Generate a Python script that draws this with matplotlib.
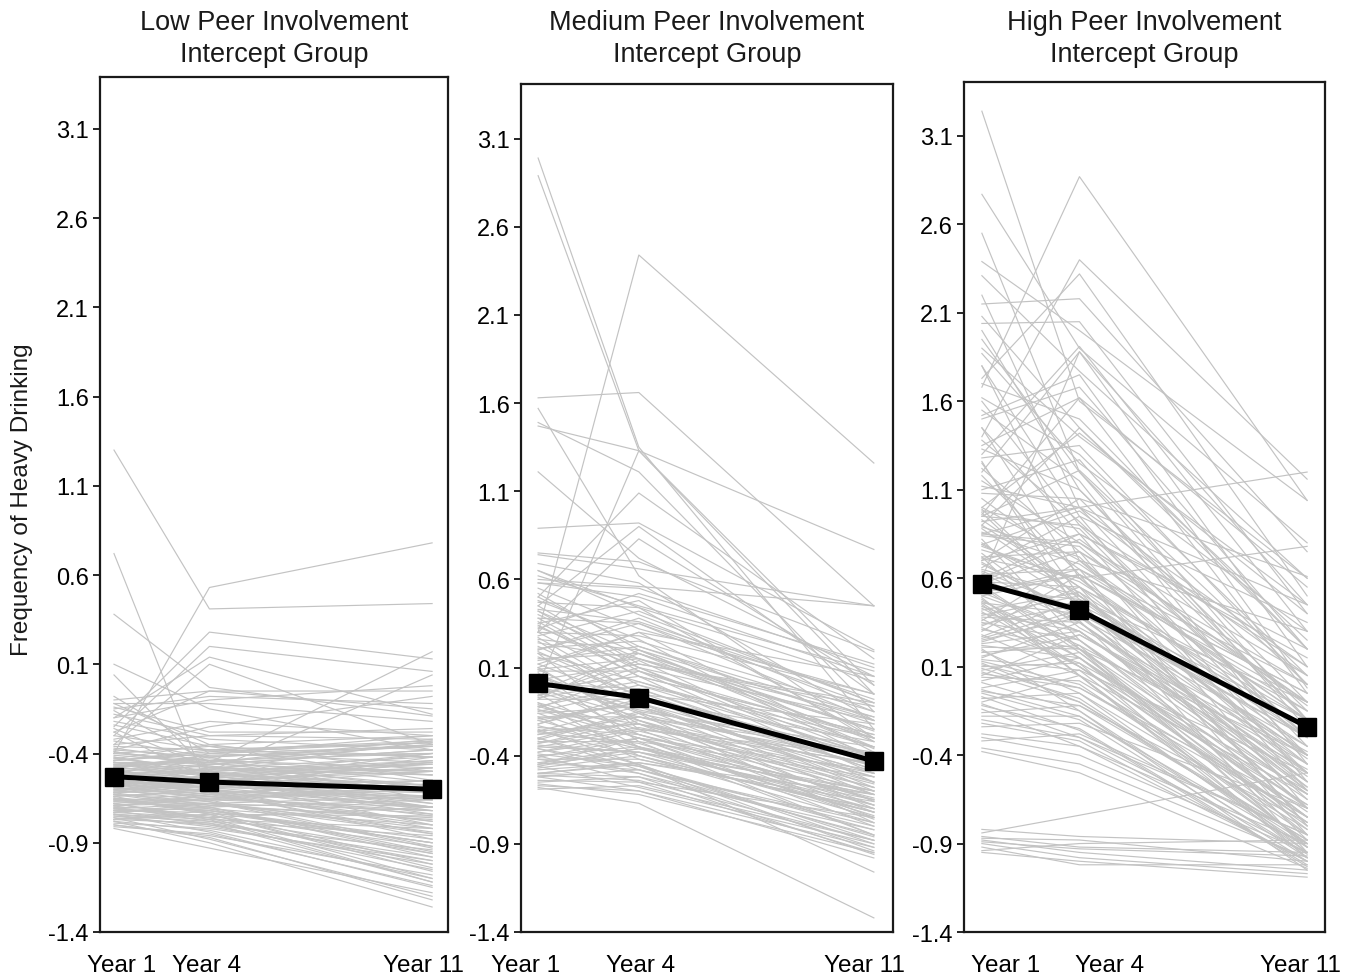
import matplotlib
matplotlib.use("Agg")
import matplotlib.pyplot as plt
import numpy as np

plt.rcParams['font.family'] = ['Liberation Sans', 'DejaVu Sans']

years = [1, 4, 11]
year_labels = ["Year 1", "Year 4", "Year 11"]
y_ticks = [-1.4, -0.9, -0.4, 0.1, 0.6, 1.1, 1.6, 2.1, 2.6, 3.1]
y_tick_labels = ["-1.4", "-0.9", "-0.4", "0.1", "0.6", "1.1", "1.6", "2.1", "2.6", "3.1"]

titles = ["Low Peer Involvement\nIntercept Group",
          "Medium Peer Involvement\nIntercept Group",
          "High Peer Involvement\nIntercept Group"]

# group means
low_mean = [-0.53, -0.56, -0.60]
med_mean = [0.01, -0.07, -0.43]
high_mean = [0.57, 0.42, -0.24]

# ---- individual trajectories: Low group ----
low_y1 = [1.30, -0.40, 0.72, 0.38, 0.10, 0.04, -0.25, -0.30, -0.20, -0.35,
          -0.45, -0.55, -0.10, -0.15, -0.20, -0.28, -0.12, -0.32, -0.38, -0.18,
          -0.38, -0.40, -0.42, -0.44, -0.45, -0.46, -0.47, -0.48, -0.49, -0.50,
          -0.51, -0.52, -0.53, -0.54, -0.55, -0.56, -0.57, -0.58, -0.59, -0.60,
          -0.61, -0.62, -0.63, -0.64, -0.65, -0.66, -0.67, -0.68, -0.69, -0.70,
          -0.71, -0.72, -0.73, -0.74, -0.75, -0.76, -0.77, -0.78, -0.80, -0.82,
          -0.36, -0.41, -0.43, -0.48, -0.52, -0.55, -0.58, -0.61, -0.64, -0.66,
          -0.69, -0.72, -0.74, -0.77, -0.79, -0.39, -0.46, -0.51, -0.57, -0.63,
          -0.68, -0.73, -0.37, -0.50, -0.60, -0.70, -0.81, -0.44, -0.54, -0.65,
          -0.53, -0.58, -0.62, -0.66, -0.71, -0.47, -0.55, -0.59, -0.75, -0.49,
          -0.08, -0.12, -0.16, -0.22, -0.26, -0.30, -0.33, -0.14, -0.24, -0.28,
          -0.40, -0.43, -0.47, -0.50, -0.53, -0.56, -0.60, -0.63, -0.67, -0.71,
          -0.74, -0.78, -0.45, -0.52, -0.57, -0.62, -0.66, -0.70, -0.76, -0.80,
          -0.42, -0.48, -0.55, -0.61, -0.68, -0.73, -0.58, -0.51, -0.64, -0.46,
          -0.35, -0.39, -0.44, -0.53, -0.59, -0.65, -0.69, -0.72, -0.77, -0.62]
low_y4 = [0.41, 0.53, -0.62, -0.03, -0.15, -0.50, 0.28, 0.20, 0.14, 0.10,
          -0.45, -0.50, -0.05, -0.08, -0.10, -0.05, -0.12, -0.22, -0.25, -0.30,
          -0.42, -0.36, -0.50, -0.40, -0.52, -0.44, -0.55, -0.41, -0.58, -0.47,
          -0.49, -0.60, -0.46, -0.62, -0.53, -0.57, -0.66, -0.50, -0.63, -0.55,
          -0.64, -0.58, -0.70, -0.61, -0.73, -0.66, -0.62, -0.76, -0.68, -0.72,
          -0.75, -0.80, -0.70, -0.84, -0.78, -0.88, -0.74, -0.90, -0.86, -0.93,
          -0.38, -0.45, -0.35, -0.52, -0.40, -0.59, -0.48, -0.56, -0.60, -0.69,
          -0.65, -0.71, -0.79, -0.72, -0.82, -0.47, -0.51, -0.55, -0.61, -0.67,
          -0.77, -0.68, -0.44, -0.54, -0.67, -0.63, -0.85, -0.39, -0.48, -0.74,
          -0.57, -0.53, -0.69, -0.71, -0.76, -0.43, -0.61, -0.64, -0.81, -0.46,
          -0.40, -0.35, -0.45, -0.32, -0.48, -0.38, -0.42, -0.28, -0.36, -0.55,
          -0.44, -0.48, -0.45, -0.56, -0.50, -0.62, -0.58, -0.65, -0.70, -0.68,
          -0.77, -0.83, -0.50, -0.49, -0.63, -0.60, -0.72, -0.78, -0.80, -0.87,
          -0.52, -0.42, -0.60, -0.55, -0.64, -0.76, -0.52, -0.58, -0.74, -0.53,
          -0.30, -0.46, -0.38, -0.59, -0.54, -0.68, -0.66, -0.73, -0.79, -0.56]
low_y11 = [0.44, 0.78, -0.70, -0.19, -0.38, -0.62, 0.13, 0.06, -0.18, -0.35,
           0.17, 0.04, -0.05, -0.12, -0.02, -0.15, -0.22, -0.30, -0.08, -0.32,
           -0.35, -0.55, -0.62, -0.30, -0.70, -0.48, -0.80, -0.40, -0.66, -0.58,
           -0.52, -0.75, -0.38, -0.85, -0.60, -0.45, -0.92, -0.68, -0.55, -0.72,
           -0.78, -0.50, -0.95, -0.64, -1.02, -0.70, -0.57, -1.10, -0.82, -0.88,
           -0.92, -1.05, -0.66, -1.15, -0.86, -1.20, -0.75, -1.26, -1.08, -1.18,
           -0.42, -0.32, -0.50, -0.45, -0.36, -0.62, -0.52, -0.40, -0.70, -0.77,
           -0.60, -0.80, -0.98, -0.90, -1.00, -0.62, -0.58, -0.74, -0.66, -0.93,
           -1.12, -0.72, -0.56, -0.46, -0.84, -0.55, -1.14, -0.34, -0.42, -1.04,
           -0.64, -0.48, -0.76, -0.96, -0.70, -0.52, -0.88, -0.59, -1.02, -0.38,
           -0.45, -0.30, -0.60, -0.38, -0.50, -0.34, -0.66, -0.28, -0.42, -0.70,
           -0.40, -0.62, -0.35, -0.68, -0.46, -0.78, -0.55, -0.72, -0.98, -0.64,
           -0.82, -1.10, -0.44, -0.33, -0.80, -0.42, -0.90, -1.00, -0.94, -1.22,
           -0.58, -0.36, -0.82, -0.50, -0.74, -0.96, -0.40, -0.65, -1.06, -0.44,
           -0.26, -0.50, -0.33, -0.70, -0.62, -0.85, -0.60, -0.90, -1.12, -0.48]

# ---- individual trajectories: Medium group ----
med_y1 = [2.99, 2.89, 0.30, 1.63, 1.47, 1.57, 1.49, 1.21, 0.89, 0.74,
          0.60, 0.50, 0.30, 0.00, 0.45, 0.75, 0.69, 0.65,
          0.65, 0.58, 0.52, 0.47, 0.42, 0.38, 0.34, 0.30, 0.27, 0.24,
          0.21, 0.18, 0.15, 0.12, 0.10, 0.08, 0.05, 0.03, 0.01, -0.02,
          -0.04, -0.06, -0.08, -0.10, -0.12, -0.14, -0.16, -0.18, -0.20, -0.22,
          -0.24, -0.26, -0.28, -0.30, -0.32, -0.34, -0.36, -0.38, -0.40, -0.42,
          -0.44, -0.46, -0.48, -0.50, -0.52, -0.54, -0.56, -0.58, -0.59, -0.35,
          0.40, 0.20, 0.00, -0.20, -0.40, 0.10, -0.10, -0.30, -0.50, 0.30,
          0.55, 0.35, 0.14, -0.15, -0.33, -0.45, 0.07, -0.25, -0.38, -0.52,
          0.25, -0.05, -0.18, -0.28, -0.42, 0.45, -0.12, -0.35, -0.47, -0.55,
          0.12, -0.02, -0.22, -0.30, -0.44, 0.36, 0.18, -0.08, -0.26, -0.50,
          0.62, 0.50, 0.43, 0.33, 0.26, 0.16, 0.09, 0.02, -0.07, -0.14,
          -0.19, -0.27, -0.33, -0.39, -0.45, -0.51, -0.57, 0.22, -0.03, -0.11,
          0.48, 0.38, 0.28, 0.19, 0.06, -0.06, -0.16, -0.26, -0.36, -0.46,
          0.58, 0.42, 0.32, 0.20, 0.09, -0.01, -0.13, -0.23, -0.31, -0.41]
med_y4 = [1.35, 1.33, 2.44, 1.66, 1.33, 0.62, 1.21, 0.72, 0.92, 0.66,
          0.56, 1.09, 0.83, 1.33, 0.90, 0.70, 0.58, 0.44,
          0.40, 0.55, 0.20, 0.44, 0.10, 0.35, 0.05, 0.28, -0.05, 0.15,
          0.25, 0.02, 0.18, -0.10, 0.30, 0.08, -0.15, 0.12, -0.02, 0.05,
          -0.20, 0.10, -0.08, -0.25, 0.00, -0.30, -0.12, -0.18, -0.35, -0.05,
          -0.28, -0.40, -0.22, -0.45, -0.32, -0.38, -0.50, -0.30, -0.55, -0.42,
          -0.48, -0.58, -0.44, -0.52, -0.60, -0.55, -0.62, -0.67, -0.57, -0.25,
          0.15, 0.38, -0.28, -0.10, -0.35, -0.22, -0.40, -0.15, -0.45, 0.00,
          0.32, 0.48, 0.22, -0.02, -0.20, -0.30, -0.32, -0.45, -0.26, -0.48,
          -0.12, -0.35, -0.42, -0.18, -0.50, 0.12, -0.28, -0.38, -0.40, -0.52,
          0.30, -0.18, -0.08, -0.48, -0.36, 0.05, -0.25, 0.20, -0.12, -0.44,
          0.45, 0.22, 0.36, 0.10, 0.20, -0.06, 0.15, -0.12, 0.02, -0.22,
          -0.10, -0.33, -0.24, -0.46, -0.38, -0.54, -0.60, -0.04, 0.18, -0.30,
          0.26, 0.08, 0.42, -0.06, -0.16, 0.14, -0.35, -0.22, -0.46, -0.36,
          0.50, 0.18, 0.52, 0.35, -0.20, -0.14, 0.08, -0.36, -0.16, -0.30]
med_y11 = [-0.25, -0.05, 1.26, 0.45, 0.77, -0.30, -0.15, 0.05, 0.20, 0.45,
           0.45, 0.15, 0.00, 0.00, -0.05, 0.19, -0.20, -0.30,
           -0.10, 0.10, -0.35, 0.02, -0.45, -0.20, -0.55, -0.05, -0.60, -0.30,
           -0.15, -0.40, -0.25, -0.62, 0.05, -0.35, -0.70, -0.10, -0.48, -0.28,
           -0.55, -0.20, -0.42, -0.75, -0.30, -0.80, -0.50, -0.38, -0.85, -0.22,
           -0.60, -0.72, -0.45, -0.88, -0.52, -0.65, -0.92, -0.48, -0.95, -0.70,
           -0.78, -0.90, -0.62, -0.82, -0.98, -0.75, -0.95, -1.32, -0.88, -0.40,
           -0.25, -0.15, -0.65, -0.55, -0.72, -0.58, -0.78, -0.35, -1.06, -0.40,
           -0.05, -0.32, -0.18, -0.45, -0.62, -0.68, -0.85, -0.90, -0.58, -0.80,
           -0.50, -0.60, -0.70, -0.42, -0.85, -0.12, -0.65, -0.75, -0.72, -0.96,
           -0.38, -0.52, -0.32, -0.86, -0.68, -0.28, -0.44, -0.20, -0.52, -0.66,
           0.08, -0.22, -0.08, -0.40, -0.32, -0.58, -0.18, -0.66, -0.35, -0.72,
           -0.46, -0.74, -0.50, -0.82, -0.60, -0.88, -0.92, -0.48, -0.26, -0.64,
           -0.42, -0.50, -0.10, -0.40, -0.78, -0.46, -0.70, -0.56, -0.94, -0.62,
           0.05, -0.36, 0.12, -0.12, -0.68, -0.40, -0.30, -0.62, -0.45, -0.76]

# ---- individual trajectories: High group ----
high_y1 = [3.24, 2.77, 2.55, 2.39, 2.31, 2.15, 2.08, 2.04, 1.87, 1.73,
           1.68, 1.40, 1.30, 1.20, 1.50, 1.35, 1.00, 0.85, 1.10, 0.95,
           1.60, 1.80, 2.00, 1.45, 1.25, 0.70, 1.15, 0.90, 0.60, 2.20,
           -0.82, -0.84, -0.86, -0.88, -0.90, -0.92, -0.94, -0.87, -0.95, -0.89,
           1.00, 0.95, 0.90, 0.85, 0.80, 0.76, 0.72, 0.68, 0.65, 0.62,
           0.60, 0.58, 0.56, 0.54, 0.52, 0.50, 0.48, 0.46, 0.44, 0.42,
           0.40, 0.37, 0.34, 0.31, 0.28, 0.25, 0.22, 0.19, 0.16, 0.13,
           0.10, 0.07, 0.04, 0.01, -0.02, -0.05, -0.08, -0.12, -0.16, -0.20,
           -0.24, -0.28, -0.32, -0.36, -0.38, 0.88, 0.70, 0.52, 0.33, 0.15,
           0.82, 0.64, 0.46, 0.27, 0.09, -0.10, 0.74, 0.55, 0.36, 0.18,
           0.92, 0.78, 0.60, 0.43, 0.24, -0.04, 0.66, 0.50, 0.30, 0.05,
           0.97, 0.86, 0.57, 0.38, 0.21, 0.02, -0.18, 0.49, 0.69, 0.11,
           1.95, 1.80, 1.62, 1.45, 1.33, 1.22, 1.12, 1.05, 0.98, 0.93,
           0.84, 0.79, 0.71, 0.63, 0.55, 0.47, 0.39, 0.32, 0.23, 0.14,
           0.06, -0.03, -0.11, -0.22, -0.30, 0.53, 0.41, 0.26, 0.12, -0.07,
           1.70, 1.55, 1.38, 1.28, 1.18, 1.08, 0.99, 0.89, 0.79, 0.58,
           0.45, 0.35, 0.20, 0.08, -0.14, 1.90, 1.52, 1.26, 0.96, 0.72]
high_y4 = [1.60, 1.90, 1.20, 2.00, 1.77, 2.18, 1.45, 2.05, 1.25, 2.32,
           2.87, 2.40, 1.91, 1.88, 1.68, 1.62, 1.42, 1.00, 1.27, 1.21,
           0.90, 0.70, 1.10, 0.60, 0.50, 1.05, 0.80, 1.45, 1.88, 1.00,
           -0.86, -0.74, -0.92, -0.95, -0.98, -1.02, -0.90, -0.88, -1.00, -0.93,
           0.70, 0.90, 0.55, 0.80, 0.45, 0.60, 0.75, 0.40, 0.50, 0.65,
           0.35, 0.55, 0.20, 0.48, 0.30, 0.62, 0.15, 0.40, 0.25, 0.52,
           0.30, 0.10, 0.45, 0.20, 0.05, 0.38, 0.15, -0.05, 0.28, 0.00,
           0.12, -0.10, 0.02, -0.15, 0.08, -0.20, -0.05, -0.25, -0.12, -0.30,
           -0.22, -0.35, -0.28, -0.45, -0.50, 0.50, 0.85, 0.65, 0.55, 0.35,
           0.25, 0.42, 0.10, 0.48, -0.08, 0.05, 0.32, 0.18, 0.70, 0.22,
           1.00, 0.58, 0.85, 0.15, 0.40, -0.12, 0.95, 0.30, 0.62, 0.28,
           0.45, 0.68, 0.75, 0.35, 0.20, 0.15, -0.18, 0.05, 0.38, -0.02,
           1.20, 0.95, 1.30, 0.85, 1.10, 0.75, 1.00, 0.65, 0.88, 0.55,
           0.78, 0.52, 0.60, 0.36, 0.44, 0.22, 0.50, 0.12, 0.30, 0.08,
           -0.02, -0.18, -0.30, -0.32, -0.40, 0.62, 0.10, 0.42, -0.10, -0.26,
           1.50, 1.15, 0.92, 1.35, 0.62, 1.05, 0.48, 0.72, 0.98, 0.82,
           0.05, 0.25, -0.15, 0.18, -0.35, 1.40, 1.75, 0.40, 1.62, 0.20]
high_y11 = [0.60, 0.80, -0.10, 1.04, 0.60, 0.75, 0.20, 0.40, 0.30, 0.50,
            1.04, 1.16, 0.30, 0.10, 0.20, -0.05, 0.40, 1.20, -0.20, 0.00,
            -0.30, -0.40, -0.20, 0.78, -0.50, 0.61, -0.10, 0.25, 0.45, 0.10,
            -0.90, -0.50, -0.95, -1.05, -1.07, -1.02, -0.88, -1.00, -1.09, -0.97,
            -0.20, 0.10, -0.45, 0.05, -0.60, -0.30, -0.10, -0.70, -0.35, 0.00,
            -0.50, -0.15, -0.75, -0.40, -0.62, -0.05, -0.85, -0.25, -0.70, -0.30,
            -0.55, -0.80, -0.20, -0.65, -0.90, -0.35, -0.72, -0.95, -0.45, -0.85,
            -0.60, -0.88, -0.75, -0.98, -0.50, -1.00, -0.82, -1.02, -0.78, -0.95,
            -0.70, -0.90, -0.85, -0.98, -1.04, -0.40, 0.20, -0.15, -0.20, -0.55,
            -0.75, -0.45, -0.68, -0.10, -0.92, -0.62, -0.38, -0.82, 0.30, -0.48,
            0.45, -0.25, 0.15, -0.78, -0.30, -0.88, 0.35, -0.58, -0.05, -0.40,
            -0.55, -0.20, 0.00, -0.60, -0.40, -0.68, -0.92, -0.95, -0.52, -0.75,
            -0.25, -0.55, 0.05, -0.60, -0.15, -0.70, -0.35, -0.80, -0.40, -0.85,
            -0.30, -0.65, -0.50, -0.88, -0.58, -0.92, -0.42, -0.98, -0.62, -0.90,
            -0.70, -0.96, -0.85, -1.00, -0.95, -0.10, -0.78, -0.30, -0.90, -1.03,
            0.20, -0.45, -0.30, 0.00, -0.80, -0.20, -0.95, -0.50, 0.05, -0.12,
            -0.98, -0.62, -1.05, -0.75, -1.00, 0.45, -0.02, -0.70, 0.55, -0.92]

panels = [
    (low_y1, low_y4, low_y11, low_mean),
    (med_y1, med_y4, med_y11, med_mean),
    (high_y1, high_y4, high_y11, high_mean),
]

W, H = 1360, 979
fig = plt.figure(figsize=(W / 100, H / 100), dpi=100)

# axes boxes in pixels: left, right, top, bottom
boxes = [(100, 448, 78, 933), (521, 893, 85, 933), (964, 1325, 83, 933)]
x_limits = [(0.56, 11.5), (0.49, 11.57), (0.45, 11.55)]
y_tops = [3.39, 3.41, 3.405]
label_pos = [(1.25, 3.9, 10.72), (0.64, 4.06, 10.73), (1.74, 4.92, 10.8)]

grey = "#c3c3c3"

for i, ((y1, y4, y11, mean), (l, r, t, b)) in enumerate(zip(panels, boxes)):
    ax = fig.add_axes([l / W, 1 - b / H, (r - l) / W, (b - t) / H])
    traj = np.vstack([y1, y4, y11])
    ax.plot(years, traj, color=grey, lw=0.85, zorder=1)
    ax.plot(years, mean, color="black", lw=3.6, marker="s", markersize=13,
            zorder=3)

    ax.set_xlim(*x_limits[i])
    ax.set_ylim(-1.4, y_tops[i])
    ax.set_yticks(y_ticks, labels=y_tick_labels)
    ax.set_xticks(label_pos[i], labels=year_labels)
    ax.tick_params(axis="x", length=0, pad=16, labelsize=17.5)
    ax.tick_params(axis="y", length=5, width=1.2, pad=3, labelsize=17,
                   direction="out")
    for s in ax.spines.values():
        s.set_linewidth(1.6)
        s.set_color("#1a1a1a")

    fig.text((l + r) / 2 / W, 1 - 39 / H, titles[i], ha="center", va="center",
             fontsize=19.5, linespacing=1.33, color="#1a1a1a")

fig.text(22 / W, 1 - 500 / H, "Frequency of Heavy Drinking", rotation=90,
         ha="center", va="center", fontsize=17.5, color="#1a1a1a")

fig.savefig("out.png", dpi=100)
